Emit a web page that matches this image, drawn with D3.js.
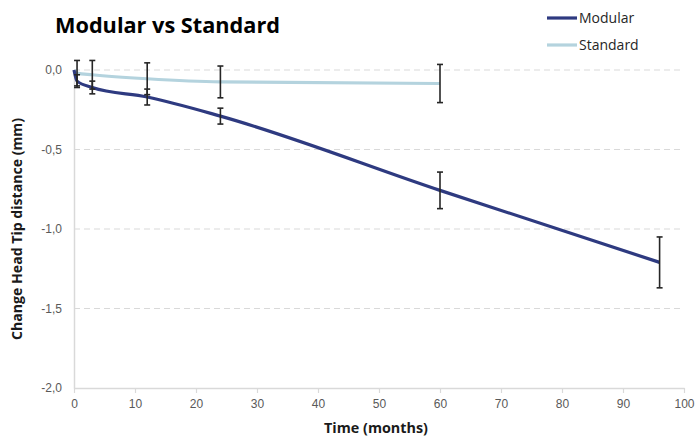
<!DOCTYPE html>
<html>
<head>
<meta charset="utf-8">
<script src="https://cdn.jsdelivr.net/npm/d3@7"></script>
<style>
  body { margin: 0; background: #fff; }
  svg { display: block; font-family: "Open Sans", "Liberation Sans", sans-serif; }
</style>
</head>
<body>
<div id="chart"></div>
<script>
// months of follow-up
const months = [0, 0.5, 3, 12, 24, 60, 96];
const modular = [0, -0.07, -0.11, -0.17, -0.29, -0.757, -1.21];
const modularErr = [null, 0.04, 0.04, 0.05, 0.05, 0.115, 0.16];
const standard = [0, -0.02, -0.03, -0.055, -0.075, -0.085, null];
const standardErr = [null, 0.08, 0.09, 0.10, 0.10, 0.12, null];
const xTicks = [0, 10, 20, 30, 40, 50, 60, 70, 80, 90, 100];
const yTicks = [0, -0.5, -1, -1.5, -2];

const W = 697, H = 438;
const margin = { top: 70, right: 13, bottom: 50, left: 74 };

const svg = d3.select("#chart").append("svg")
    .attr("width", W)
    .attr("height", H);

const x = d3.scaleLinear().domain([0, 100]).range([margin.left, W - margin.right]);
const y = d3.scaleLinear().domain([-2, 0]).range([H - margin.bottom, margin.top]);

const fmt = d => d3.format(".1f")(d).replace(".", ",").replace("−", "-");

// gridlines (dashed)
svg.append("g")
    .selectAll("line")
    .data(yTicks.filter(d => d > -2))
    .enter()
    .append("line")
    .attr("x1", x(0))
    .attr("x2", x(100))
    .attr("y1", d => y(d))
    .attr("y2", d => y(d))
    .attr("stroke", "#d9d9d9")
    .attr("stroke-width", 1.2)
    .attr("stroke-dasharray", "6,4");

// y axis
const yAxis = svg.append("g")
    .attr("transform", `translate(${x(0)},0)`)
    .call(d3.axisLeft(y).tickValues(yTicks).tickFormat(fmt).tickSize(0).tickPadding(12));
yAxis.select(".domain").attr("stroke", "#d9d9d9").attr("stroke-width", 1.5);
yAxis.selectAll("text").attr("fill", "#595959").style("font-size", "12px");

// x axis
const xAxis = svg.append("g")
    .attr("transform", `translate(0,${y(-2)})`)
    .call(d3.axisBottom(x).tickValues(xTicks).tickSizeInner(5).tickSizeOuter(0).tickPadding(6));
xAxis.select(".domain").attr("stroke", "#d9d9d9").attr("stroke-width", 1.5);
xAxis.selectAll("line").attr("stroke", "#d9d9d9").attr("stroke-width", 1.2);
xAxis.selectAll("text").attr("fill", "#595959").style("font-size", "12px");

const series = [
    { name: "Standard", values: standard, err: standardErr, color: "#b4d3de" },
    { name: "Modular", values: modular, err: modularErr, color: "#2e3a80" }
];

const line = d3.line()
    .defined(d => d[1] !== null)
    .x(d => x(d[0]))
    .y(d => y(d[1]))
    .curve(d3.curveMonotoneX);

series.forEach(s => {
    const pts = months.map((m, i) => [m, s.values[i]]);
    svg.append("path")
        .datum(pts)
        .attr("fill", "none")
        .attr("stroke", s.color)
        .attr("stroke-width", 3.2)
        .attr("stroke-linejoin", "round")
        .attr("d", line);
});

// error bars
const cap = 3;
series.forEach(s => {
    const bars = months.map((m, i) => ({ m: m, v: s.values[i], e: s.err[i] }))
        .filter(d => d.v !== null && d.e !== null);
    const g = svg.append("g").attr("stroke", "#262626").attr("stroke-width", 1.6);
    g.selectAll(".bar")
        .data(bars)
        .enter()
        .append("line")
        .attr("x1", d => x(d.m)).attr("x2", d => x(d.m))
        .attr("y1", d => y(d.v + d.e)).attr("y2", d => y(d.v - d.e));
    g.selectAll(".capt")
        .data(bars)
        .enter()
        .append("line")
        .attr("x1", d => x(d.m) - cap).attr("x2", d => x(d.m) + cap)
        .attr("y1", d => y(d.v + d.e)).attr("y2", d => y(d.v + d.e));
    g.selectAll(".capb")
        .data(bars)
        .enter()
        .append("line")
        .attr("x1", d => x(d.m) - cap).attr("x2", d => x(d.m) + cap)
        .attr("y1", d => y(d.v - d.e)).attr("y2", d => y(d.v - d.e));
});

// title
svg.append("text")
    .attr("x", 55)
    .attr("y", 33)
    .attr("font-size", 22)
    .attr("font-weight", "bold")
    .attr("fill", "#000")
    .attr("textLength", 225)
    .attr("lengthAdjust", "spacingAndGlyphs")
    .text("Modular vs Standard");

// legend
const legend = [series[1], series[0]];
legend.forEach((s, i) => {
    const ly = 18 + i * 27;
    svg.append("line")
        .attr("x1", 547).attr("x2", 577)
        .attr("y1", ly).attr("y2", ly)
        .attr("stroke", s.color)
        .attr("stroke-width", 3.2);
    svg.append("text")
        .attr("x", 579)
        .attr("y", ly + 5)
        .attr("font-size", 14)
        .attr("fill", "#262626")
        .text(s.name);
});

// axis titles
svg.append("text")
    .attr("x", x(50) - 3)
    .attr("y", 433)
    .attr("text-anchor", "middle")
    .attr("font-size", 14)
    .attr("font-weight", "bold")
    .attr("fill", "#1a1a1a")
    .attr("textLength", 104)
    .attr("lengthAdjust", "spacingAndGlyphs")
    .text("Time (months)");

svg.append("text")
    .attr("transform", `translate(22,${y(-1)}) rotate(-90)`)
    .attr("text-anchor", "middle")
    .attr("font-size", 14)
    .attr("font-weight", "bold")
    .attr("fill", "#1a1a1a")
    .attr("textLength", 222)
    .attr("lengthAdjust", "spacingAndGlyphs")
    .text("Change Head Tip distance (mm)");
</script>
</body>
</html>
